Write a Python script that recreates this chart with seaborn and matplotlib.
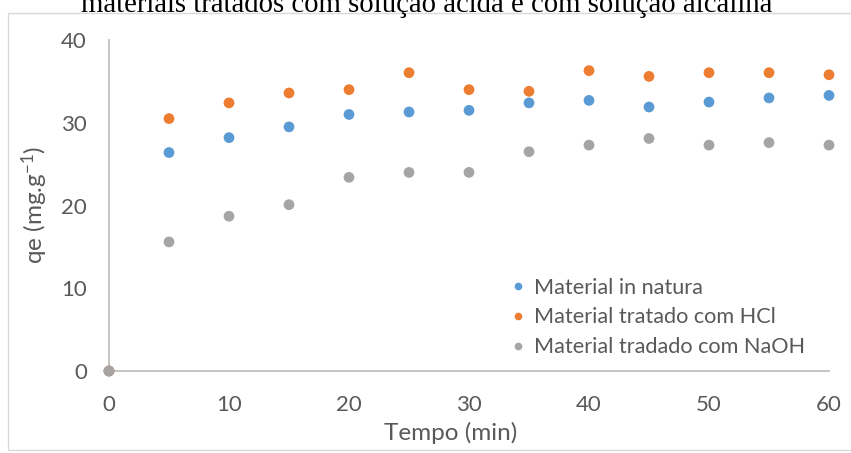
import matplotlib
matplotlib.use("Agg")
import matplotlib.pyplot as plt
import seaborn as sns
import pandas as pd
from matplotlib.patches import Rectangle
from matplotlib.lines import Line2D

tempo = [0, 5, 10, 15, 20, 25, 30, 35, 40, 45, 50, 55, 60]
in_natura = [0, 26.4, 28.2, 29.5, 31.0, 31.3, 31.5, 32.4, 32.7, 31.9, 32.5, 33.0, 33.3]
hcl = [0, 30.5, 32.4, 33.6, 34.0, 36.05, 34.0, 33.8, 36.3, 35.6, 36.05, 36.05, 35.8]
naoh = [0, 15.6, 18.7, 20.1, 23.4, 24.0, 24.0, 26.5, 27.3, 28.1, 27.3, 27.6, 27.3]
series_names = ["Material in natura", "Material tratado com HCl", "Material tradado com NaOH"]
colors = ["#5B9BD5", "#ED7D31", "#A5A5A5"]
x_ticks = [0, 10, 20, 30, 40, 50, 60]
y_ticks = [0, 10, 20, 30, 40]
title = "materiais tratados com solução ácida e com solução alcalina"

rows = []
for name, vals in zip(series_names, [in_natura, hcl, naoh]):
    for t, v in zip(tempo, vals):
        rows.append({"Tempo": t, "qe": v, "Série": name})
df = pd.DataFrame(rows)

sns.set_style("white")
plt.rcParams["font.family"] = ["Lato", "DejaVu Sans"]
plt.rcParams["mathtext.fontset"] = "custom"
plt.rcParams["mathtext.rm"] = "Lato"
plt.rcParams["mathtext.it"] = "Lato:italic"

W, H = 851, 453
fig = plt.figure(figsize=(W / 100, H / 100), dpi=100)
ax = fig.add_axes([109 / W, (H - 371) / H, (829 - 109) / W, (371 - 40) / H])

sns.scatterplot(data=df, x="Tempo", y="qe", hue="Série", palette=colors,
                hue_order=series_names, s=60, edgecolor="none", ax=ax,
                legend=False, clip_on=False, zorder=3)

ax.set_xlim(0, 60)
ax.set_ylim(0, 40)
ax.set_xticks(x_ticks)
ax.set_yticks(y_ticks)
txt = "#595959"
ax.tick_params(axis="both", length=0, labelsize=16, colors=txt)
ax.tick_params(axis="x", pad=17)
ax.tick_params(axis="y", pad=16)
for s in ["top", "right"]:
    ax.spines[s].set_visible(False)
for s in ["left", "bottom"]:
    ax.spines[s].set_color("#BFBFBF")
    ax.spines[s].set_linewidth(1.3)
ax.set_xlabel("Tempo (min)", fontsize=17.5, color=txt)
ax.xaxis.set_label_coords((451 - 109) / 720, -51 / 331)
ax.set_ylabel("qe (mg.g$^{-1}$)", fontsize=17.5, color=txt, labelpad=8)

handles = [Line2D([0], [0], marker="o", linestyle="none", markersize=5.5,
                  markerfacecolor=c, markeredgecolor="none") for c in colors]
leg = ax.legend(handles, series_names, loc="upper left",
                bbox_to_anchor=(503 / W, (H - 269) / H), bbox_transform=fig.transFigure,
                frameon=False, fontsize=15.6, handlelength=0.6, handletextpad=0.45,
                labelspacing=0.45, borderaxespad=0)
for t in leg.get_texts():
    t.set_color(txt)

fig.patches.append(Rectangle((8 / W, (H - 450) / H), 1.0, (450 - 13) / H,
                             transform=fig.transFigure, fill=False,
                             edgecolor="#D9D9D9", linewidth=1.0))
fig.text(427 / W, (H - 12) / H, title, ha="center", va="baseline",
         fontsize=20.7, family="Liberation Serif", color="black")

fig.savefig("out.png", dpi=100)
